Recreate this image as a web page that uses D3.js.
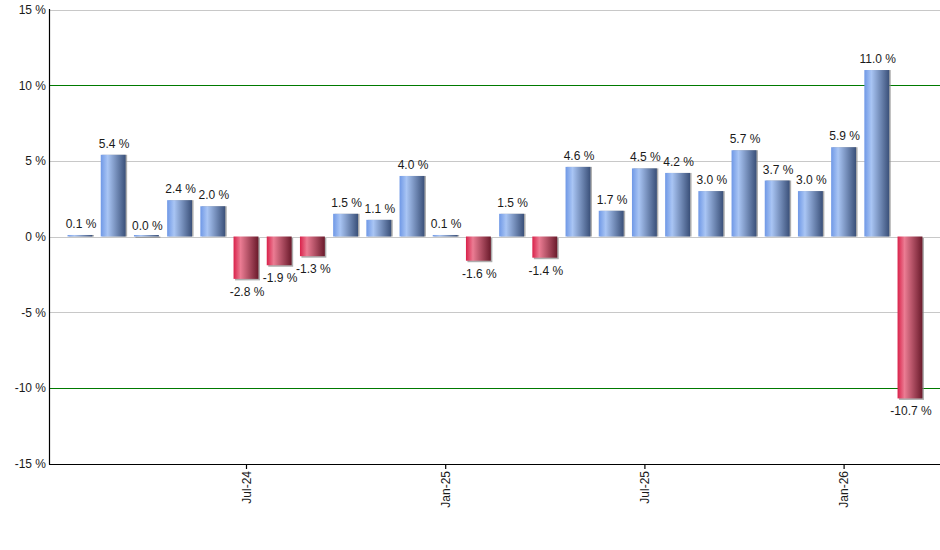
<!DOCTYPE html>
<html>
<head>
  <meta charset="UTF-8">
  <style>
    body { margin: 0; background: #fff; }
    svg { display: block; font-family: 'Liberation Sans', Arial, sans-serif; }
  </style>
</head>
<body>
<svg></svg>
<script src="https://d3js.org/d3.v7.min.js"></script>
<script>
    // monthly returns, Feb-24 .. Mar-26
    const months = ["Feb-24","Mar-24","Apr-24","May-24","Jun-24","Jul-24","Aug-24","Sep-24","Oct-24","Nov-24","Dec-24",
                    "Jan-25","Feb-25","Mar-25","Apr-25","May-25","Jun-25","Jul-25","Aug-25","Sep-25","Oct-25","Nov-25","Dec-25",
                    "Jan-26","Feb-26","Mar-26"];
    const returns = [0.1, 5.4, 0.0, 2.4, 2.0, -2.8, -1.9, -1.3, 1.5, 1.1, 4.0,
                     0.1, -1.6, 1.5, -1.4, 4.6, 1.7, 4.5, 4.2, 3.0, 5.7, 3.7, 3.0,
                     5.9, 11.0, -10.7];
    const xTickLabels = ["Jul-24", "Jan-25", "Jul-25", "Jan-26"];
    const yTicks = [-15, -10, -5, 0, 5, 10, 15];
    const greenLines = [-10, 10];

    let width = 940, height = 550;
    let svg = d3.select("svg").attr("width", width).attr("height", height);

    let x = d3.scaleBand().domain(months).range([63.4, 926.6]).paddingInner(0.25).paddingOuter(0.125);
    let y = d3.scaleLinear().domain([-15, 15]).range([463.5, 9.5]);

    //---- gradients
    let defs = svg.append("defs");
    function grad(id, stops) {
        let g = defs.append("linearGradient").attr("id", id)
            .attr("x1", "0%").attr("x2", "100%").attr("y1", "0%").attr("y2", "0%");
        stops.forEach(s => g.append("stop").attr("offset", s[0]).attr("stop-color", s[1]));
    }
    grad("gBlue", [["0%", "#6f98e6"], ["28%", "#a9c5f4"], ["100%", "#3a5079"]]);
    grad("gRed", [["0%", "#d9214a"], ["28%", "#eb7c93"], ["100%", "#6a1a2b"]]);

    //---- grid
    svg.append("g").selectAll("line").data(yTicks.filter(d => greenLines.indexOf(d) < 0))
        .enter().append("line")
        .attr("x1", 50).attr("x2", width)
        .attr("y1", d => Math.round(y(d)) + 0.5).attr("y2", d => Math.round(y(d)) + 0.5)
        .attr("stroke", "#c8c8c8").attr("stroke-width", 1);

    svg.append("g").selectAll("line").data(greenLines)
        .enter().append("line")
        .attr("x1", 50).attr("x2", width)
        .attr("y1", d => Math.round(y(d)) + 0.5).attr("y2", d => Math.round(y(d)) + 0.5)
        .attr("stroke", "#007a00").attr("stroke-width", 1.2);

    //---- bars
    let bars = svg.append("g");
    let bw = x.bandwidth();
    returns.forEach((v, i) => {
        let x0 = x(months[i]);
        let top = y(Math.max(v, 0)), bot = y(Math.min(v, 0));
        let h = Math.max(bot - top, 1.5);
        // shadow
        bars.append("rect")
            .attr("x", x0 + 1.5).attr("y", top + (v < 0 ? 1.5 : 0))
            .attr("width", bw).attr("height", h)
            .attr("fill", "#8a8a8a").attr("opacity", 0.7);
        bars.append("rect")
            .attr("x", x0).attr("y", v >= 0 ? bot - h : top)
            .attr("width", bw).attr("height", h)
            .attr("fill", v >= 0 ? "url(#gBlue)" : "url(#gRed)");
    });

    //---- value labels
    svg.append("g").selectAll("text").data(returns)
        .enter().append("text")
        .attr("x", (d, i) => x(months[i]) + bw / 2 + 1)
        .attr("y", d => d >= 0 ? y(d) - 7 : y(d) + 17)
        .attr("text-anchor", "middle")
        .attr("font-size", 12)
        .attr("fill", "#1a1a1a")
        .text(d => d.toFixed(1) + " %");

    //---- axes
    svg.append("line").attr("x1", 49.5).attr("x2", 49.5).attr("y1", 9).attr("y2", 464.5)
        .attr("stroke", "#000").attr("stroke-width", 1.2);
    svg.append("line").attr("x1", 49).attr("x2", width).attr("y1", 464.5).attr("y2", 464.5)
        .attr("stroke", "#000").attr("stroke-width", 1.2);

    svg.append("g").selectAll("text").data(yTicks)
        .enter().append("text")
        .attr("x", 46).attr("y", d => y(d) + 4.5)
        .attr("text-anchor", "end")
        .attr("font-size", 12)
        .attr("fill", "#1a1a1a")
        .text(d => d + " %");

    let xt = svg.append("g").selectAll("g").data(xTickLabels)
        .enter().append("g")
        .attr("transform", d => "translate(" + (x(d) + bw / 2 + 0.5) + ",464)");
    xt.append("line").attr("y1", 0).attr("y2", 5).attr("stroke", "#000").attr("stroke-width", 1.2);
    xt.append("text")
        .attr("transform", "rotate(-90)")
        .attr("x", -7).attr("y", 4)
        .attr("text-anchor", "end")
        .attr("font-size", 12)
        .attr("fill", "#1a1a1a")
        .text(d => d);
</script>
</body>
</html>
